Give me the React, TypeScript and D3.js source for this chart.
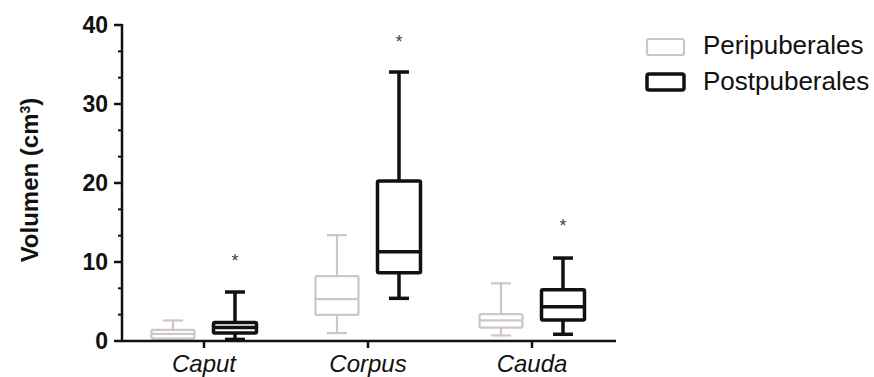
import React from "react";
import * as d3 from "d3";

const categories = ["Caput", "Corpus", "Cauda"];
const seriesNames = ["Peripuberales", "Postpuberales"];

const periWhiskerLow = [0.2, 1.0, 0.7];
const periQ1 = [0.3, 3.3, 1.7];
const periMedian = [0.9, 5.3, 2.6];
const periQ3 = [1.4, 8.2, 3.4];
const periWhiskerHigh = [2.6, 13.4, 7.3];

const postWhiskerLow = [0.2, 5.4, 0.85];
const postQ1 = [1.0, 8.65, 2.65];
const postMedian = [1.7, 11.3, 4.35];
const postQ3 = [2.35, 20.25, 6.5];
const postWhiskerHigh = [6.2, 34.05, 10.5];

const starValues = [10.6, 38.3, 15.1];

const yTicks = [0, 10, 20, 30, 40];
const yMinorTicks = [10 / 3, 20 / 3, 40 / 3, 50 / 3, 70 / 3, 80 / 3, 100 / 3, 110 / 3];

const FONT = "'Liberation Sans', Arial, Helvetica, sans-serif";

export default function App() {
  const width = 874;
  const height = 377;
  const x = d3.scaleBand<string>().domain(categories).range([122, 614]).padding(0);
  const inner = d3.scalePoint<string>().domain(seriesNames).range([-31, 31]);
  const y = d3.scaleLinear().domain([0, 40]).range([341, 25]);

  const series = [
    {
      name: seriesNames[0],
      color: "#cdc6c5",
      sw: 2.2,
      lo: periWhiskerLow,
      q1: periQ1,
      med: periMedian,
      q3: periQ3,
      hi: periWhiskerHigh,
    },
    {
      name: seriesNames[1],
      color: "#111111",
      sw: 3.5,
      lo: postWhiskerLow,
      q1: postQ1,
      med: postMedian,
      q3: postQ3,
      hi: postWhiskerHigh,
    },
  ];

  const boxW = 43;
  const capW = 20;

  return (
    <svg
      width={width}
      height={height}
      style={{ position: "absolute", left: 0, top: 0, background: "#fff" }}
      fontFamily={FONT}
    >
      <rect x={0} y={0} width={width} height={height} fill="#fff" />
      {series.map((s) =>
        categories.map((c, i) => {
          const cx = (x(c) as number) + x.bandwidth() / 2 + (inner(s.name) as number);
          return (
            <g key={s.name + c} stroke={s.color} strokeWidth={s.sw} fill="none">
              <line x1={cx} x2={cx} y1={y(s.hi[i])} y2={y(s.q3[i])} />
              <line x1={cx} x2={cx} y1={y(s.q1[i])} y2={y(s.lo[i])} />
              <line x1={cx - capW / 2} x2={cx + capW / 2} y1={y(s.hi[i])} y2={y(s.hi[i])} />
              <line x1={cx - capW / 2} x2={cx + capW / 2} y1={y(s.lo[i])} y2={y(s.lo[i])} />
              <rect
                x={cx - boxW / 2}
                y={y(s.q3[i])}
                width={boxW}
                height={y(s.q1[i]) - y(s.q3[i])}
                fill="#fff"
                rx={1.5}
              />
              <line x1={cx - boxW / 2} x2={cx + boxW / 2} y1={y(s.med[i])} y2={y(s.med[i])} />
            </g>
          );
        })
      )}
      {categories.map((c, i) => {
        const cx = (x(c) as number) + x.bandwidth() / 2 + (inner(seriesNames[1]) as number);
        return (
          <text
            key={"star" + c}
            x={cx}
            y={y(starValues[i]) + 10}
            textAnchor="middle"
            fontSize={18}
            fill="#444"
          >
            *
          </text>
        );
      })}
      <line x1={122} x2={122} y1={y(40) - 1} y2={y(0) + 1} stroke="#111" strokeWidth={2.5} />
      <line x1={121} x2={616} y1={y(0)} y2={y(0)} stroke="#111" strokeWidth={2.5} />
      {yTicks.map((t) => (
        <g key={"yt" + t}>
          <line x1={114} x2={122} y1={y(t)} y2={y(t)} stroke="#111" strokeWidth={2.5} />
          <text
            x={108}
            y={y(t) + 8}
            textAnchor="end"
            fontSize={23}
            fontWeight="bold"
            fill="#111"
          >
            {t}
          </text>
        </g>
      ))}
      {yMinorTicks.map((t, i) => (
        <line key={"ym" + i} x1={118} x2={122} y1={y(t)} y2={y(t)} stroke="#111" strokeWidth={2} />
      ))}
      {categories.map((c) => {
        const cx = (x(c) as number) + x.bandwidth() / 2;
        return (
          <g key={"xt" + c}>
            <line x1={cx} x2={cx} y1={y(0)} y2={y(0) + 7} stroke="#111" strokeWidth={2.5} />
            <text
              x={cx}
              y={372}
              textAnchor="middle"
              fontSize={24}
              fontStyle="italic"
              fill="#111"
            >
              {c}
            </text>
          </g>
        );
      })}
      <text
        transform={`translate(38,${180}) rotate(-90)`}
        textAnchor="middle"
        fontSize={24}
        fontWeight="bold"
        fill="#111"
      >
        Volumen (cm
        <tspan dy={-8} fontSize={14}>
          3
        </tspan>
        <tspan dy={8}>)</tspan>
      </text>
      {series.map((s, i) => (
        <g key={"leg" + s.name}>
          <rect
            x={647}
            y={39 + i * 35}
            width={37}
            height={16}
            rx={2}
            fill="#fff"
            stroke={s.color}
            strokeWidth={s.sw}
          />
          <text x={703} y={54 + i * 36} fontSize={26} fill="#111">
            {s.name}
          </text>
        </g>
      ))}
    </svg>
  );
}
